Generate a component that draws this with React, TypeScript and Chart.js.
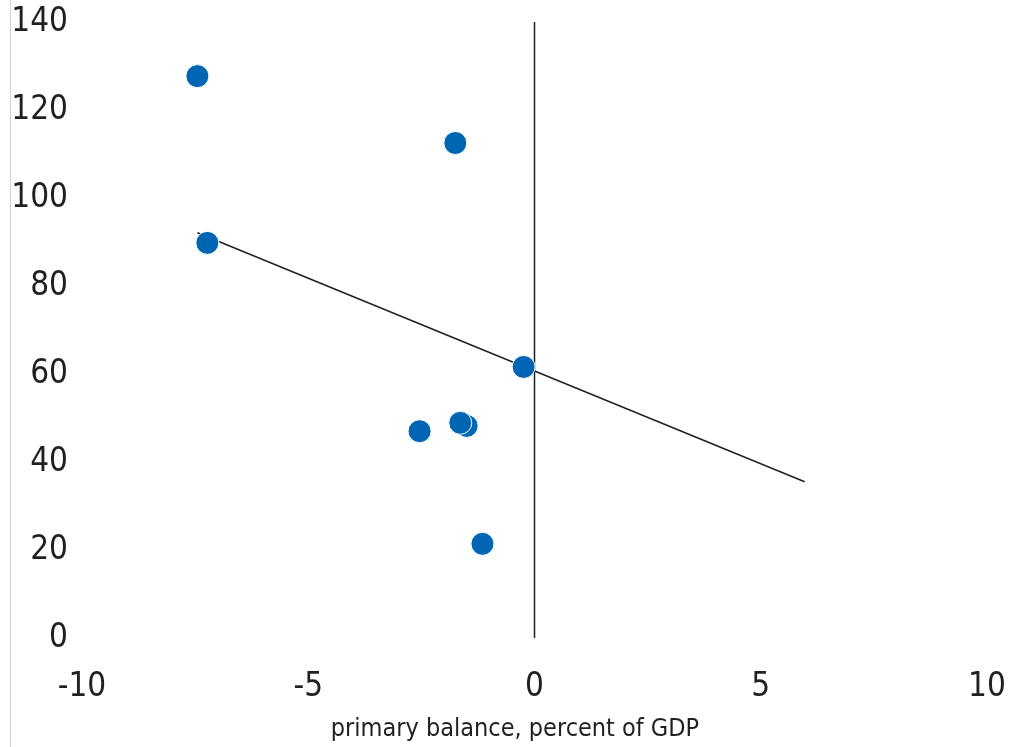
import React, { useEffect, useRef } from "react";
import { Chart, registerables } from "chart.js";

Chart.register(...registerables);

const balanceX = [-7.45, -1.75, -7.23, -0.24, -2.54, -1.5, -1.64, -1.15];
const debtY = [127.7, 112.5, 89.8, 61.6, 47.0, 48.2, 48.9, 21.4];
const trendX = [-7.45, 5.97];
const trendY = [92.1, 35.5];
const zeroLineX = [0, 0];
const zeroLineY = [0, 140];
const xTitle = "primary balance, percent of GDP";

const FONT = "'DejaVu Sans Condensed', Roboto, sans-serif";
const WEIGHT = "400 condensed";
const INK = "#231f20";

const titlePlugin = {
  id: "bottomTitle",
  afterDraw(chart: any) {
    const c = chart.ctx;
    c.save();
    c.font = `${WEIGHT} 25px ${FONT}`;
    c.fillStyle = INK;
    c.textAlign = "center";
    c.textBaseline = "middle";
    c.fillText(xTitle, 515, 729);
    c.restore();
  },
};

export default function App() {
  const ref = useRef<HTMLCanvasElement | null>(null);
  useEffect(() => {
    document.body.style.margin = "0";
    const ctx = ref.current!;
    const chart = new Chart(ctx, {
      type: "scatter",
      data: {
        datasets: [
          {
            type: "scatter",
            data: balanceX.map((x, i) => ({ x, y: debtY[i] })),
            backgroundColor: "#0066b3",
            borderColor: "#ffffff",
            borderWidth: 1,
            pointRadius: 11.5,
            pointHoverRadius: 11.5,
            order: 0,
          },
          {
            type: "line",
            data: trendX.map((x, i) => ({ x, y: trendY[i] })),
            borderColor: INK,
            borderWidth: 1.5,
            pointRadius: 0,
            fill: false,
            order: 1,
          },
          {
            type: "line",
            data: zeroLineX.map((x, i) => ({ x, y: zeroLineY[i] })),
            borderColor: INK,
            borderWidth: 1.5,
            pointRadius: 0,
            fill: false,
            order: 2,
          },
        ],
      },
      options: {
        animation: false,
        responsive: false,
        maintainAspectRatio: false,
        layout: { padding: { left: 0, right: 30, top: 22, bottom: 0 } },
        plugins: { legend: { display: false }, tooltip: { enabled: false } },
        scales: {
          x: {
            type: "linear",
            min: -10,
            max: 10,
            grid: { display: false, drawTicks: false },
            border: { display: false },
            ticks: {
              stepSize: 5,
              color: INK,
              padding: 30,
              font: { family: FONT, size: 33, weight: WEIGHT as any },
              maxRotation: 0,
            },
            afterFit: (s: any) => {
              s.height = 109;
              s.paddingLeft = 0;
              s.paddingRight = 0;
            },
          },
          y: {
            type: "linear",
            min: 0,
            max: 140,
            grid: { display: false, drawTicks: false },
            border: { display: false },
            ticks: {
              stepSize: 20,
              color: INK,
              padding: 14,
              font: { family: FONT, size: 33, weight: WEIGHT as any },
            },
            afterFit: (s: any) => {
              s.width = 82;
              s.paddingTop = 0;
              s.paddingBottom = 0;
            },
          },
        },
      },
      plugins: [titlePlugin],
    });
    return () => chart.destroy();
  }, []);
  return (
    <div style={{ position: "relative", width: 1017, height: 747 }}>
      <div
        style={{
          position: "absolute",
          left: 10,
          top: 0,
          width: 1,
          height: 747,
          background: "#d4d4d4",
        }}
      />
      <canvas ref={ref} width={1017} height={747} style={{ display: "block" }} />
    </div>
  );
}
